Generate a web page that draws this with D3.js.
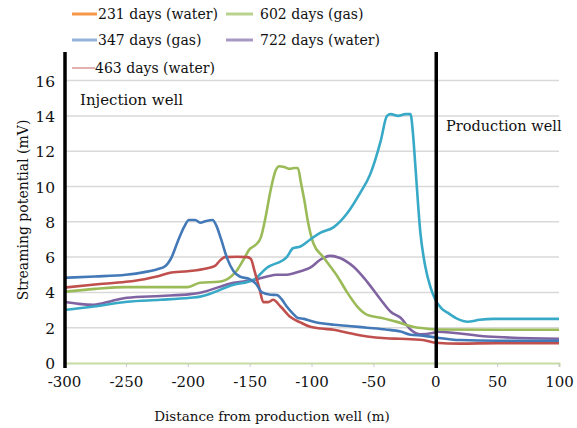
<!DOCTYPE html>
<html>
<head>
<meta charset="utf-8">
<script src="https://cdn.jsdelivr.net/npm/d3@7"></script>
<style>
  html, body { margin: 0; padding: 0; background: #fff; }
</style>
</head>
<body>
<div id="chart"></div>
<script>
// ---- data ----
const xTicks = [-300, -250, -200, -150, -100, -50, 0, 50, 100];
const yTicks = [0, 2, 4, 6, 8, 10, 12, 14, 16];

const legendNames = ['231 days (water)', '347 days (gas)', '463 days (water)', '602 days (gas)', '722 days (water)'];

const days347 = [[-300,4.83],[-275,4.9],[-250,5.0],[-235,5.15],[-225,5.3],[-218,5.5],[-213,6.0],[-208,6.9],[-203,7.7],[-199,8.1],[-194,8.1],[-190,7.95],[-185,8.05],[-180,8.1],[-177,7.8],[-173,7.0],[-168,5.9],[-163,5.2],[-158,4.9],[-150,4.75],[-145,4.5],[-140,4.0],[-133,3.87],[-128,3.85],[-124,3.6],[-120,3.2],[-115,2.8],[-111,2.55],[-106,2.5],[-101,2.4],[-92,2.25],[-82,2.17],[-70,2.1],[-55,2.0],[-40,1.9],[-28,1.78],[-20,1.6],[-10,1.55],[0,1.45],[20,1.3],[50,1.26],[100,1.26]];

const days463 = [[-300,4.27],[-275,4.45],[-250,4.6],[-235,4.75],[-225,4.9],[-215,5.1],[-200,5.2],[-185,5.35],[-178,5.5],[-174,5.8],[-170,6.0],[-160,6.02],[-152,6.0],[-149,5.9],[-146,5.2],[-142,4.2],[-139,3.45],[-135,3.45],[-131,3.58],[-125,3.2],[-117,2.6],[-109,2.3],[-101,2.05],[-92,1.95],[-82,1.88],[-70,1.7],[-55,1.5],[-40,1.4],[-28,1.37],[-10,1.3],[0,1.15],[20,1.1],[50,1.12],[100,1.12]];

const days602 = [[-300,4.03],[-275,4.2],[-250,4.3],[-225,4.3],[-200,4.3],[-190,4.55],[-175,4.6],[-165,4.9],[-160,5.27],[-155,5.85],[-150,6.45],[-145,6.7],[-141,7.1],[-137,8.3],[-133,9.8],[-129,10.9],[-126,11.15],[-122,11.1],[-118,11.0],[-114,11.05],[-111,11.05],[-108.5,10.2],[-106,9.3],[-102.6,7.9],[-98.6,6.8],[-90.5,6.0],[-79,4.9],[-71,3.98],[-63,3.2],[-55,2.73],[-44,2.56],[-31,2.33],[-18,2.05],[-6.5,1.94],[0,1.9],[50,1.88],[100,1.88]];

const days722 = [[-300,3.47],[-288,3.35],[-276,3.3],[-262,3.5],[-249,3.7],[-222,3.8],[-198,3.9],[-190,3.98],[-163,4.55],[-147,4.7],[-136,4.9],[-128,5.0],[-120,5.0],[-109,5.2],[-101,5.4],[-93,5.85],[-85,6.07],[-77,5.95],[-66,5.45],[-55,4.6],[-44,3.58],[-36,2.9],[-28,2.56],[-20,1.9],[-12,1.62],[-2,1.7],[2,1.77],[42,1.5],[100,1.37]];

// sixth curve, not named in the legend
const unlabeled = [[-300,3.0],[-276,3.2],[-249,3.47],[-222,3.58],[-198,3.7],[-190,3.76],[-163,4.43],[-147,4.7],[-136,5.4],[-120,6.0],[-115,6.5],[-109,6.6],[-101,7.0],[-93,7.37],[-82,7.7],[-71,8.5],[-61,9.6],[-52.5,10.7],[-44,12.6],[-39,14.0],[-36,14.1],[-30,14.0],[-24,14.1],[-20,14.1],[-18,13.0],[-16,11.1],[-12,7.37],[-8,5.45],[-4,4.33],[0,3.6],[5,3.1],[10,2.85],[18,2.5],[26,2.34],[36,2.45],[47,2.5],[100,2.5]];

const wells = [{ x: -300, label: 'Injection well' }, { x: 0, label: 'Production well' }];

// ---- chart ----
const W = 577, H = 428;
const margin = { top: 80, right: 18, bottom: 65, left: 64 };
const serif = 'DejaVu Serif';

const svg = d3.select('#chart').append('svg')
  .attr('width', W)
  .attr('height', H)
  .style('font-family', serif);

const x = d3.scaleLinear().domain([-300, 100]).range([margin.left, W - margin.right]);
const y = d3.scaleLinear().domain([0, 16]).range([H - margin.bottom, margin.top + 0.6]);

// gridlines
svg.append('g')
  .selectAll('line')
  .data(yTicks.filter(d => d > 0))
  .enter()
  .append('line')
  .attr('x1', x(-300))
  .attr('x2', x(100))
  .attr('y1', d => y(d))
  .attr('y2', d => y(d))
  .attr('stroke', '#d9d9d9')
  .attr('stroke-width', 1.5);

// y axis labels
svg.append('g')
  .selectAll('text')
  .data(yTicks)
  .enter()
  .append('text')
  .attr('x', 55)
  .attr('y', d => y(d) + 6)
  .attr('text-anchor', 'end')
  .style('font-family', serif)
  .attr('font-size', 15.5)
  .attr('fill', '#111')
  .text(d => d);

// x axis
const xAxis = svg.append('g')
  .attr('transform', `translate(0,${y(0)})`)
  .call(d3.axisBottom(x).tickValues(xTicks).tickSize(4).tickFormat(d => d));
xAxis.attr('font-family', null);
xAxis.select('.domain').attr('stroke', '#c6dca4').attr('stroke-width', 2);
xAxis.selectAll('.tick line').attr('stroke', '#c8c8c8');
xAxis.selectAll('.tick text')
  .style('font-family', serif)
  .attr('font-size', 15)
  .attr('fill', '#111')
  .attr('dy', '1.1em');

// curves
const line = d3.line()
  .x(d => x(d[0]))
  .y(d => y(d[1]))
  .curve(d3.curveMonotoneX);

const curves = [
  { data: days722, color: '#8064a2' },
  { data: days602, color: '#9bbb59' },
  { data: unlabeled, color: '#38a9c6' },
  { data: days463, color: '#c0504d' },
  { data: days347, color: '#4479b8' }
];

svg.append('g')
  .selectAll('path')
  .data(curves)
  .enter()
  .append('path')
  .attr('d', d => line(d.data))
  .attr('fill', 'none')
  .attr('stroke', d => d.color)
  .attr('stroke-width', 2.6)
  .attr('stroke-linejoin', 'round');

// well markers
svg.append('g')
  .selectAll('line')
  .data(wells)
  .enter()
  .append('line')
  .attr('x1', d => x(d.x) + 1)
  .attr('x2', d => x(d.x) + 1)
  .attr('y1', 52)
  .attr('y2', y(0) + 5)
  .attr('stroke', '#000')
  .attr('stroke-width', 3.5);

svg.append('text')
  .attr('x', 80)
  .attr('y', 105)
  .style('font-family', serif)
  .attr('font-size', 15)
  .attr('fill', '#111')
  .text(wells[0].label);

svg.append('text')
  .attr('x', 446)
  .attr('y', 131)
  .style('font-family', serif)
  .attr('font-size', 14.5)
  .attr('fill', '#111')
  .text(wells[1].label);

// legend
const legendItems = [
  { name: legendNames[0], color: '#f79646', w: 3, x0: 72, x1: 97, tx: 98, ty: 14 },
  { name: legendNames[3], color: '#b9d38f', w: 3, x0: 226, x1: 253, tx: 260, ty: 14 },
  { name: legendNames[1], color: '#95b3d7', w: 3, x0: 72, x1: 97, tx: 98, ty: 40 },
  { name: legendNames[4], color: '#a899c4', w: 3, x0: 226, x1: 253, tx: 260, ty: 40 },
  { name: legendNames[2], color: '#d99694', w: 1.5, x0: 72, x1: 95, tx: 95, ty: 68 }
];

const legend = svg.append('g').attr('class', 'legend');
legend.selectAll('line')
  .data(legendItems)
  .enter()
  .append('line')
  .attr('x1', d => d.x0)
  .attr('x2', d => d.x1)
  .attr('y1', d => d.ty)
  .attr('y2', d => d.ty)
  .attr('stroke', d => d.color)
  .attr('stroke-width', d => d.w);

legend.selectAll('text')
  .data(legendItems)
  .enter()
  .append('text')
  .attr('x', d => d.tx)
  .attr('y', d => d.ty + 5)
  .style('font-family', serif)
  .attr('font-size', 14)
  .attr('fill', '#111')
  .text(d => d.name);

// axis titles
svg.append('text')
  .attr('x', 272)
  .attr('y', 421)
  .attr('text-anchor', 'middle')
  .style('font-family', serif)
  .attr('font-size', 13.5)
  .attr('fill', '#111')
  .text('Distance from production well (m)');

svg.append('text')
  .attr('transform', 'translate(28,210) rotate(-90)')
  .attr('text-anchor', 'middle')
  .style('font-family', serif)
  .attr('font-size', 14)
  .attr('fill', '#111')
  .text('Streaming potential (mV)');
</script>
</body>
</html>
